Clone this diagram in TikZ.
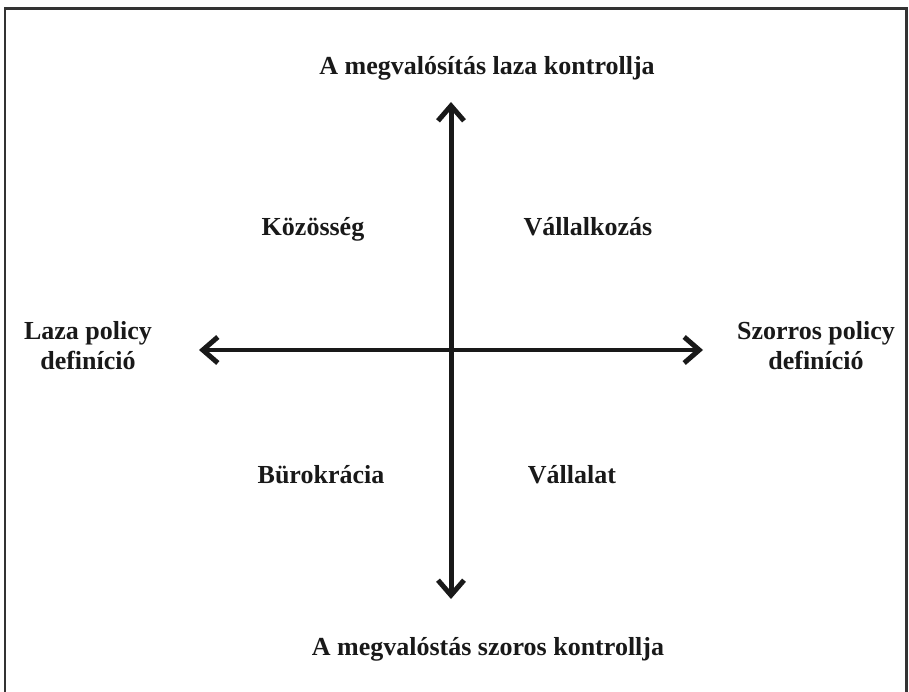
\documentclass[tikz,border=0pt]{standalone}
\usepackage{fontspec}
\setmainfont{Liberation Serif}
\usetikzlibrary{arrows.meta,
	positioning}
\tikzstyle{lbl}=[font=\fontsize{14.8}{17}\selectfont\bfseries, align=center, inner sep=0, text=black!90]
\tikzstyle{ax}=[line width=0.1cm, draw=black!90, {Straight Barb[length=3mm,width=5.2mm]}-{Straight Barb[length=3mm,width=5.2mm]}]
\tikzstyle{frm}=[line width=0.06cm, draw=black!80]

\begin{document}
\begin{tikzpicture}[x=0.02cm, y=-0.02cm]
	\useasboundingbox (0,0) rectangle (909,692);
	% frame, open at the bottom
	\draw[frm] (5,700) -- (5,9) -- (906,9) -- (906,700);
	% axes
	\coordinate (top) at (451,102);
	\coordinate (bot) at (451,599);
	\coordinate (lft) at (199,350);
	\coordinate (rgt) at (703,350);
	\draw[ax] (bot) -- (top);
	\draw[ax] (lft) -- (rgt);
	% axis labels
	\node[lbl, anchor=base] (tlab) at (487,75) {A megvalósítás laza kontrollja};
	\node[lbl, anchor=base] (blab) at (488,655) {A megvalóstás szoros kontrollja};
	\node[lbl] (llab) at (88,346) {Laza policy\\definíció};
	\node[lbl] (rlab) at (816,346) {Szorros policy\\definíció};
	% quadrants
	\node[lbl, anchor=base] (q1) at (313,236) {Közösség};
	\node[lbl, anchor=base] (q2) at (588,236) {Vállalkozás};
	\node[lbl, anchor=base] (q3) at (321,483) {Bürokrácia};
	\node[lbl, anchor=base] (q4) at (572,483) {Vállalat};
\end{tikzpicture}
\end{document}
